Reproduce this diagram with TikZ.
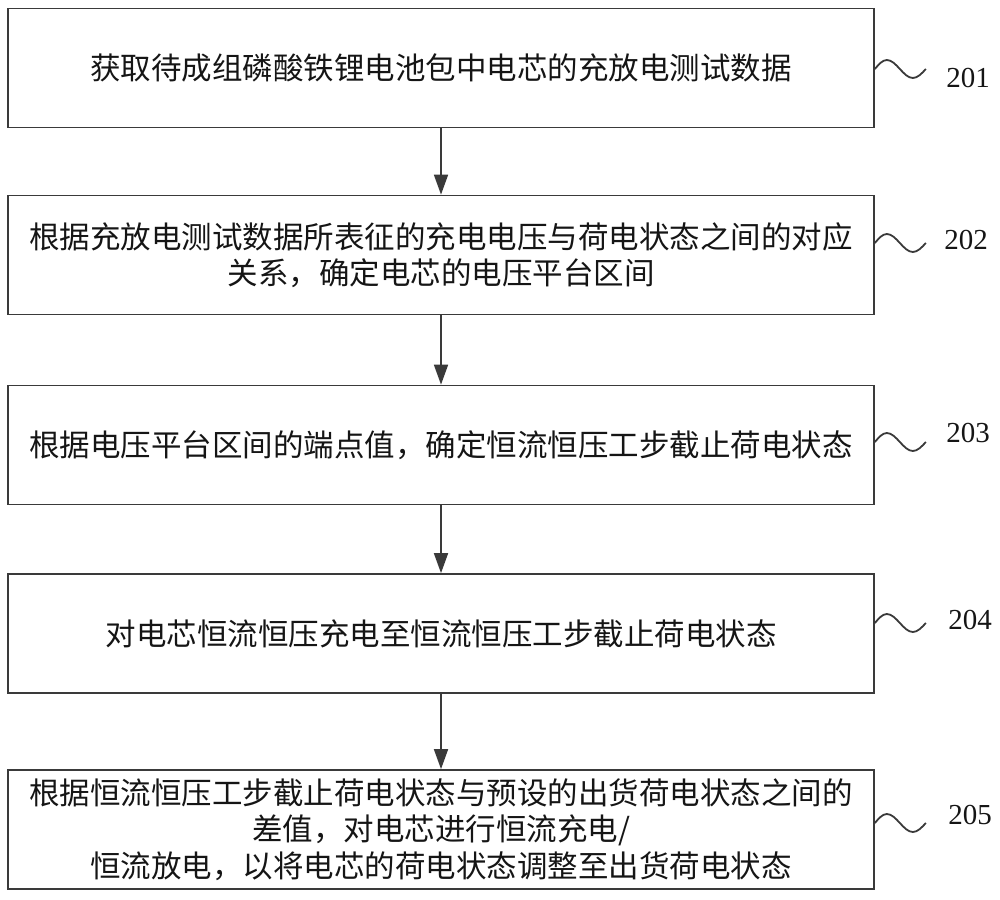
\documentclass[tikz,border=0pt]{standalone}
\usepackage{fontspec}
\newfontfamily\cjk{Noto Sans CJK SC}
\newfontfamily\numfont{Liberation Serif}
\usetikzlibrary{arrows.meta}
\definecolor{linecol}{HTML}{3A3A3A}
\definecolor{txtcol}{HTML}{151515}
\tikzset{
  stepbox/.style={draw=linecol, line width=1.7pt, minimum width=866pt, minimum height=119pt,
    inner sep=0pt, align=center, text=txtcol, font=\cjk\fontsize{30.5}{36.5}\selectfont},
  flow/.style={draw=linecol, line width=1.7pt, -{Triangle[length=20pt,width=14pt]}},
  wave/.style={draw=linecol, line width=1.8pt},
  numlabel/.style={font=\numfont\fontsize{29}{29}\selectfont, inner sep=0pt, text=txtcol}
}
\begin{document}
\begin{tikzpicture}[x=1pt,y=-1pt]
\useasboundingbox (0,0) rectangle (1000,899);
\node[stepbox] (b1) at (441,68) {获取待成组磷酸铁锂电池包中电芯的充放电测试数据};
\node[stepbox] (b2) at (441,255) {根据充放电测试数据所表征的充电电压与荷电状态之间的对应\\关系，确定电芯的电压平台区间};
\node[stepbox] (b3) at (441,445) {根据电压平台区间的端点值，确定恒流恒压工步截止荷电状态};
\node[stepbox] (b4) at (441,633.5) {对电芯恒流恒压充电至恒流恒压工步截止荷电状态};
\node[stepbox] (b5) at (441,829.5) {根据恒流恒压工步截止荷电状态与预设的出货荷电状态之间的\\差值，对电芯进行恒流充电/\\恒流放电，以将电芯的荷电状态调整至出货荷电状态};

\draw[flow] (b1) -- (b2);
\draw[flow] (b2) -- (b3);
\draw[flow] (b3) -- (b4);
\draw[flow] (b4) -- (b5);

\node[numlabel] (n1) at (968,78) {201};
\node[numlabel] (n2) at (966,240) {202};
\node[numlabel] (n3) at (968,433) {203};
\node[numlabel] (n4) at (970,620) {204};
\node[numlabel] (n5) at (970,815) {205};

\draw[wave] (b1.east |- 0,69) sin ++(12,-9) cos ++(13,9) sin ++(13,9) cos ++(13,-9);
\draw[wave] (b2.east |- 0,243) sin ++(12,-9) cos ++(13,9) sin ++(13,9) cos ++(13,-9);
\draw[wave] (b3.east |- 0,442) sin ++(12,-9) cos ++(13,9) sin ++(13,9) cos ++(13,-9);
\draw[wave] (b4.east |- 0,623) sin ++(12,-9) cos ++(13,9) sin ++(13,9) cos ++(13,-9);
\draw[wave] (b5.east |- 0,823) sin ++(12,-9) cos ++(13,9) sin ++(13,9) cos ++(13,-9);
\end{tikzpicture}
\end{document}
